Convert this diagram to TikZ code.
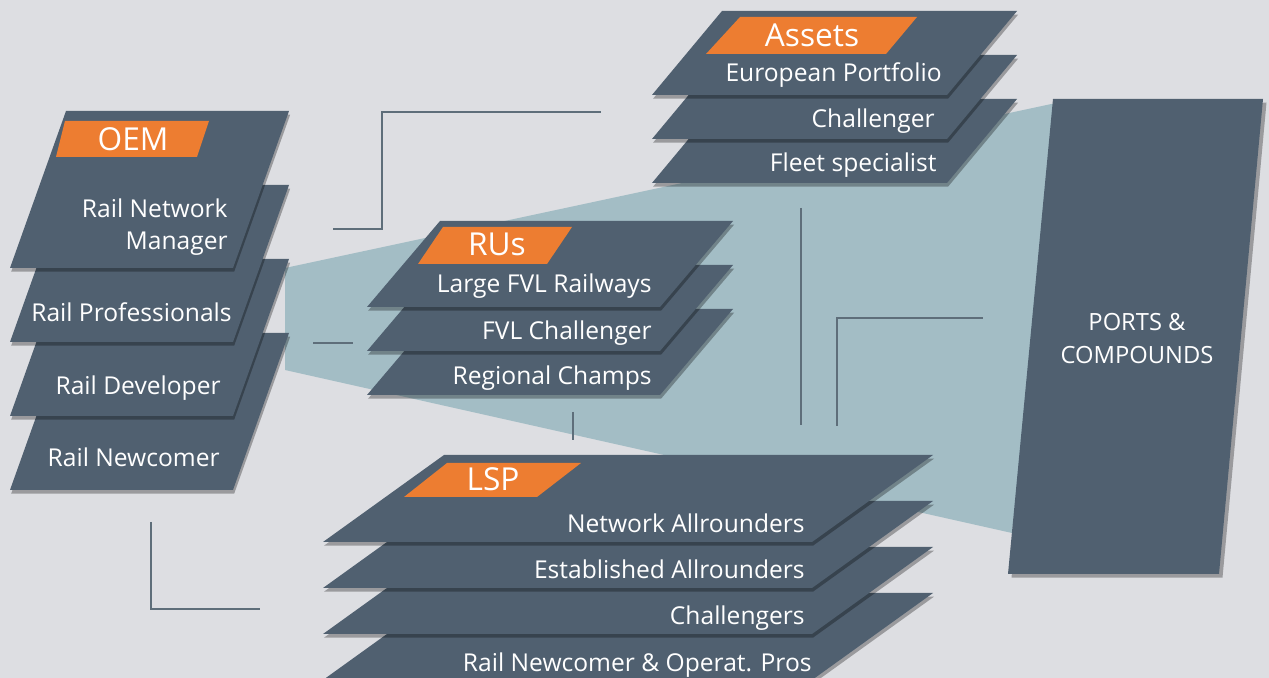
\documentclass[tikz,border=0pt]{standalone}
\usepackage{fontspec}
\setmainfont{Open Sans}
\usetikzlibrary{shadows}
\definecolor{bgc}{HTML}{DDDEE2}
\definecolor{tealc}{HTML}{A3BDC5}
\definecolor{platec}{HTML}{506070}
\definecolor{orangec}{HTML}{ED7D31}
\definecolor{linec}{HTML}{5E6E7A}
\tikzset{
  plate/.style={fill=platec, drop shadow={shadow xshift=0.7pt, shadow yshift=-2pt, opacity=0.3, fill=black}},
  tagbox/.style={fill=orangec},
  itemtext/.style={text=white, font=\fontsize{14pt}{18.7pt}\selectfont, inner sep=0pt, anchor=base east},
  headtext/.style={text=white, font=\fontsize{18pt}{20pt}\selectfont, inner sep=0pt, anchor=base},
  conn/.style={draw=linec, line width=0.85pt}
}
% plate: top y, height, top-left x, top-right x, slant dx
\newcommand\myplate[5]{\path[plate] (#3,#1) -- (#4,#1) -- ({#4-#5},{#1+#2}) -- ({#3-#5},{#1+#2}) -- cycle;}
\newcommand\mytag[6]{\path[tagbox] (#3,#1) -- (#4,#1) -- ({#4-#5},#2) -- ({#3-#6},#2) -- cycle;}
\begin{document}
\begin{tikzpicture}[x=0.02cm, y=-0.02cm]
\useasboundingbox (0,0) rectangle (1269,678);
\fill[bgc] (0,0) rectangle (1269,678);
% teal wedge
\fill[tealc] (285,268) -- (1056,103) -- (1012,533) -- (285,370) -- cycle;

% connector lines
\coordinate (a1) at (333,229); \coordinate (a2) at (382,229);
\coordinate (a3) at (382,112); \coordinate (a4) at (601,112);
\draw[conn] (a1) -- (a2) -- (a3) -- (a4);
\coordinate (b1) at (313,343); \coordinate (b2) at (353,343);
\draw[conn] (b1) -- (b2);
\coordinate (c1) at (573,412); \coordinate (c2) at (573,440);
\draw[conn] (c1) -- (c2);
\coordinate (d1) at (801,208); \coordinate (d2) at (801,425);
\draw[conn] (d1) -- (d2);
\coordinate (e1) at (837,426); \coordinate (e2) at (837,318); \coordinate (e3) at (983,318);
\draw[conn] (e1) -- (e2) -- (e3);
\coordinate (f1) at (151,522); \coordinate (f2) at (151,609); \coordinate (f3) at (260,609);
\draw[conn] (f1) -- (f2) -- (f3);

% ports box
\path[fill=platec, drop shadow={shadow xshift=2pt, shadow yshift=-2pt, opacity=0.3, fill=black}]
  (1053,99) -- (1263,99) -- (1219,574) -- (1008,574) -- cycle;
\node[text=white, font=\fontsize{13.5pt}{19.3pt}\selectfont, align=center, inner sep=0pt, anchor=base] (ports) at (1137,364) {PORTS \&\\COMPOUNDS};

% OEM stack
\myplate{333}{157}{66}{289}{56}
\myplate{259}{157}{66}{289}{56}
\myplate{185}{157}{66}{289}{56}
\myplate{111}{157}{66}{289}{56}
\mytag{121}{157}{65}{209}{12}{9}
\node[headtext] (oem) at (133,151) {OEM};
\node[itemtext, align=right] (oem1) at (228,250) {Rail Network\\Manager};
\node[itemtext] (oem2) at (232,322) {Rail Professionals};
\node[itemtext] (oem3) at (221,395) {Rail Developer};
\node[itemtext] (oem4) at (220,467) {Rail Newcomer};

% Assets stack
\myplate{99}{84}{722}{1017}{70}
\myplate{55}{84}{722}{1017}{70}
\myplate{11}{84}{722}{1017}{70}
\mytag{17}{54}{740}{917}{31}{34}
\node[headtext] (assets) at (812,47) {Assets};
\node[itemtext] (as1) at (942,82) {European Portfolio};
\node[itemtext] (as2) at (935,128) {Challenger};
\node[itemtext] (as3) at (937,172) {Fleet specialist};

% RUs stack
\myplate{309}{86}{440}{733}{73}
\myplate{265}{86}{440}{733}{73}
\myplate{221}{86}{440}{733}{73}
\mytag{227}{264}{443}{572}{25}{25}
\node[headtext] (rus) at (497,256) {RUs};
\node[itemtext] (ru1) at (652,293) {Large FVL Railways};
\node[itemtext] (ru2) at (652,340) {FVL Challenger};
\node[itemtext] (ru3) at (652,385) {Regional Champs};

% LSP stack
\myplate{593}{87}{444}{933}{121}
\myplate{547}{87}{444}{933}{121}
\myplate{501}{87}{444}{933}{121}
\myplate{455}{87}{444}{933}{121}
\mytag{463}{497}{447}{581}{44}{43}
\node[headtext] (lsp) at (493,491) {LSP};
\node[itemtext] (ls1) at (805,533) {Network Allrounders};
\node[itemtext] (ls2) at (805,579) {Established Allrounders};
\node[itemtext] (ls3) at (805,625) {Challengers};
\node[itemtext] (ls4) at (812,672) {Rail Newcomer \& Operat. Pros};
\end{tikzpicture}
\end{document}
